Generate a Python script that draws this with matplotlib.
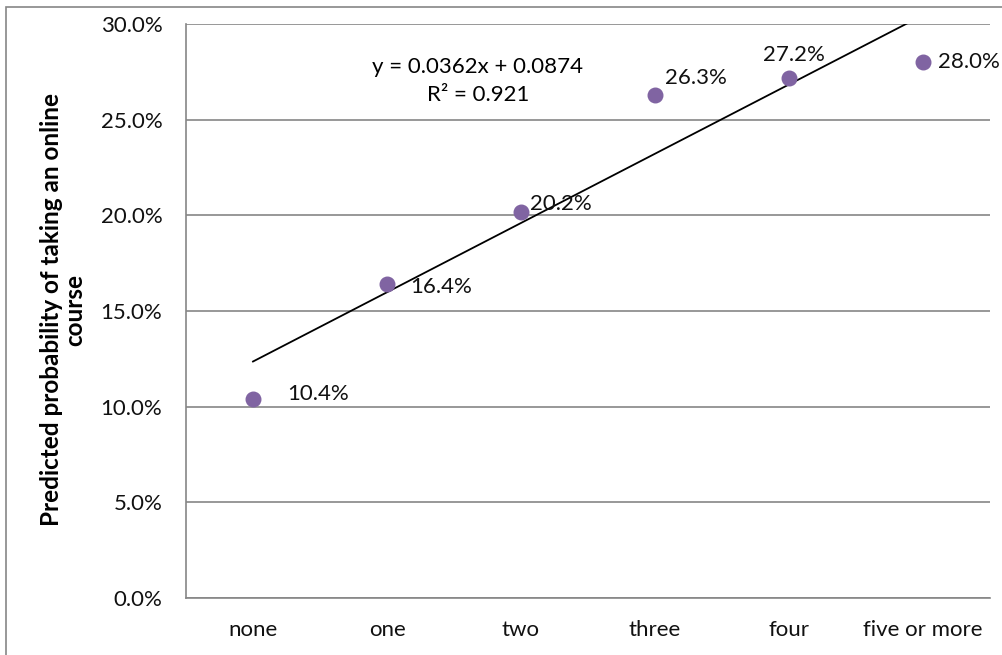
import numpy as np
import matplotlib.pyplot as plt
from matplotlib.patches import Rectangle
from matplotlib.ticker import PercentFormatter, MultipleLocator

# data
categories = ["none", "one", "two", "three", "four", "five or more"]
probability = [0.104, 0.164, 0.202, 0.263, 0.272, 0.280]
point_labels = ["10.4%", "16.4%", "20.2%", "26.3%", "27.2%", "28.0%"]
# trendline as reported on the chart
trend_slope = 0.0362
trend_intercept = 0.0874
trend_r2 = 0.921
# offsets of each data label from its point, in pixels
label_offsets = [(34, 5), (23, -3), (9, 8), (10, 17), (-26, 23), (15, 0)]

plt.rcParams['font.family'] = ['Lato', 'DejaVu Sans']
fs = 16

fig = plt.figure(figsize=(10.02, 6.55), dpi=100)
ax = fig.add_axes([186 / 1002, 57 / 655, 804 / 1002, 574 / 655])

grey = '#868686'
purple = '#8064A2'

# outer chart border (right and bottom edges run off the image)
fig.patches.append(Rectangle((6 / 1002, -0.05), 1.1, (655 - 7) / 655 + 0.05,
                             transform=fig.transFigure, fill=False,
                             edgecolor=grey, linewidth=1.2))

x = np.arange(1, len(categories) + 1)
ax.scatter(x, probability, s=110, color=purple, zorder=3)

for xi, yi, lab, off in zip(x, probability, point_labels, label_offsets):
    ax.annotate(lab, (xi, yi), xytext=off, textcoords='offset pixels',
                ha='left', va='center', fontsize=fs, color='#111111')

xt = np.array([1, 6])
ax.plot(xt, trend_slope * xt + trend_intercept, color='black',
        linewidth=1.3, zorder=2)

ax.text(478, 655 - 67, "y = %.4fx + %.4f" % (trend_slope, trend_intercept),
        transform=None, ha='center', va='center', fontsize=fs)
ax.text(478, 655 - 95, "R² = %.3f" % trend_r2, transform=None,
        ha='center', va='center', fontsize=fs)

ax.set_xlim(0.5, 6.5)
ax.set_ylim(0, 0.30)
ax.yaxis.set_major_locator(MultipleLocator(0.05))
ax.yaxis.set_major_formatter(PercentFormatter(1.0, decimals=1))
ax.set_xticks(x)
ax.set_xticklabels(categories)
ax.tick_params(axis='both', length=0, labelsize=fs, colors='#111111')
ax.tick_params(axis='y', pad=17)
ax.tick_params(axis='x', pad=16)

ax.grid(axis='y', color=grey, linewidth=1.2)
ax.set_axisbelow(True)
for side in ['top', 'right']:
    ax.spines[side].set_visible(False)
for side in ['left', 'bottom']:
    ax.spines[side].set_color(grey)
    ax.spines[side].set_linewidth(1.2)

ax.set_ylabel("Predicted probability of taking an online\ncourse",
              fontsize=17.5, fontweight='bold', linespacing=1.0)
ax.yaxis.set_label_coords(86 / 1002, (655 - 310) / 655,
                          transform=fig.transFigure)

fig.savefig('out.png', dpi=100)
